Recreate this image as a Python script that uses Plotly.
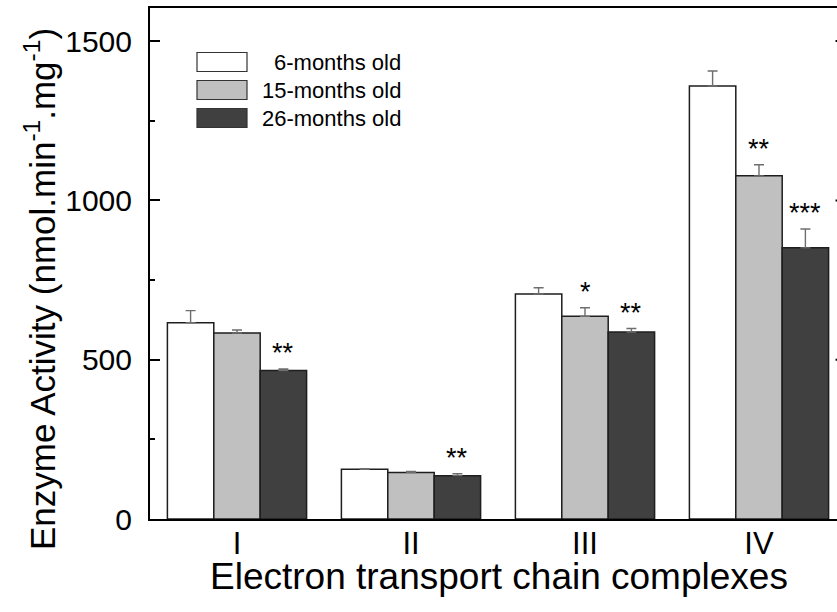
import plotly.graph_objects as go

# ---- data ----
categories = ["I", "II", "III", "IV"]
series_names = ["6-months old", "15-months old", "26-months old"]
values_6m = [616, 156, 706, 1359]
values_15m = [584, 146, 636, 1077]
values_26m = [466, 136, 587, 851]
err_6m = [38, 2, 20, 47]
err_15m = [9, 3, 27, 35]
err_26m = [5, 6, 11, 59]
sig_6m = ["", "", "", ""]
sig_15m = ["", "", "*", "**"]
sig_26m = ["**", "**", "**", "***"]
sig_y_15m = [None, None, 735, 1183]
sig_y_26m = [542, 212, 669, 983]
y_ticks = [0, 500, 1000, 1500]

W, H = 837, 612
ML, MR, MT, MB = 150, 0, 8, 93
PW, PH = W - ML - MR, H - MT - MB

def px_x(p):
    return (p - ML) / PW

def px_y(p):
    return (H - MB - p) / PH

FONT = "Arial, 'Liberation Sans', sans-serif"
colors = ["#ffffff", "#c0c0c0", "#404040"]
xpos = [1, 2, 3, 4]
vals = [values_6m, values_15m, values_26m]
errs = [err_6m, err_15m, err_26m]
sigs = [sig_6m, sig_15m, sig_26m]
sig_ys = [[None] * 4, sig_y_15m, sig_y_26m]

fig = go.Figure()
for i in range(3):
    fig.add_trace(go.Bar(
        x=xpos, y=vals[i], name=series_names[i],
        marker=dict(color=colors[i], line=dict(color="#1e1e1e", width=1.5)),
        error_y=dict(type="data", symmetric=False, array=errs[i],
                     arrayminus=[0] * 4, color="#6e6e6e", thickness=1.4, width=5),
        showlegend=False,
    ))

bar_w = 0.8 / 3
annotations = []
for i in range(3):
    off = (i - 1) * bar_w
    for j in range(4):
        if sigs[i][j]:
            annotations.append(dict(
                x=xpos[j] + off, y=sig_ys[i][j], xref="x", yref="y",
                text=sigs[i][j], showarrow=False, yanchor="middle",
                yshift=-7, font=dict(family=FONT, size=27, color="#000")))

# legend (manual, large swatches)
shapes = []
row_centers = [62, 90, 118]
for i in range(3):
    yc = row_centers[i]
    shapes.append(dict(type="rect", xref="paper", yref="paper",
                       x0=px_x(197), x1=px_x(247), y0=px_y(yc + 9.5), y1=px_y(yc - 9.5),
                       fillcolor=colors[i], line=dict(color="#333333", width=1.2)))
    annotations.append(dict(x=px_x(403), y=px_y(yc), xref="paper", yref="paper",
                            text=series_names[i], showarrow=False, xanchor="right",
                            yanchor="middle", font=dict(family=FONT, size=22, color="#000")))

# tips of the right-hand axis ticks (axis itself lies just outside the crop)
for t in y_ticks[1:]:
    shapes.append(dict(type="line", xref="x", yref="y", x0=4.44, x1=4.5, y0=t, y1=t,
                       line=dict(color="#000", width=2)))

# axis titles
annotations.append(dict(x=px_x(499), y=px_y(577), xref="paper", yref="paper",
                        text="Electron transport chain complexes", showarrow=False,
                        xanchor="center", yanchor="middle",
                        font=dict(family=FONT, size=37, color="#000")))
annotations.append(dict(x=px_x(40), y=px_y(289), xref="paper", yref="paper",
                        text="Enzyme Activity (nmol.min<sup>-1</sup>.mg<sup>-1</sup>)",
                        showarrow=False, textangle=-90, xanchor="center", yanchor="middle",
                        font=dict(family=FONT, size=35, color="#000")))

fig.update_layout(
    width=W, height=H,
    margin=dict(l=ML, r=MR, t=MT, b=MB, pad=0),
    paper_bgcolor="white", plot_bgcolor="white",
    barmode="group", bargap=0.2, bargroupgap=0,
    shapes=shapes, annotations=annotations,
    xaxis=dict(range=[0.5, 0.5 + PW / 174.0], tickmode="array", tickvals=xpos,
               ticktext=categories, ticks="", showline=True, linecolor="#000",
               linewidth=2, mirror=True, showgrid=False, zeroline=False,
               tickfont=dict(family=FONT, size=31, color="#000"), ticklabelstandoff=-4),
    yaxis=dict(range=[0, PH / 0.3186], tickvals=y_ticks, ticks="inside", ticklen=10,
               tickwidth=2, tickcolor="#000", showline=True, linecolor="#000",
               linewidth=2, mirror=False, showgrid=False, zeroline=False,
               minor=dict(ticks="inside", ticklen=5, tickwidth=2, tickcolor="#000", dtick=250,
                          showgrid=False),
               tickfont=dict(family=FONT, size=30, color="#000"), ticklabelstandoff=10),
)

fig.write_html("out.html")
